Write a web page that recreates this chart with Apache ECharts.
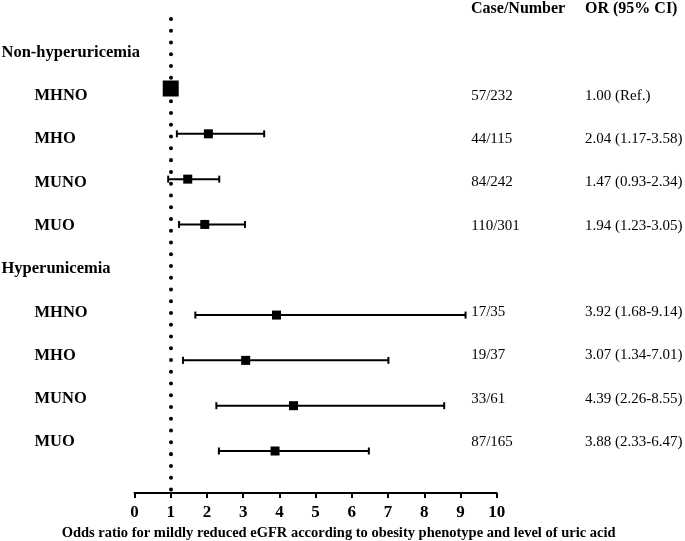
<!DOCTYPE html>
<html>
<head>
<meta charset="utf-8">
<script src="https://cdn.jsdelivr.net/npm/echarts@6/dist/echarts.min.js"></script>
<style>html,body{margin:0;padding:0;background:#fff;}#chart{width:685px;height:541px;}</style>
</head>
<body>
<div id="chart"></div>
<script>
// ---- data ----
const rowLabels = ['Non-hyperuricemia', 'MHNO', 'MHO', 'MUNO', 'MUO', 'Hyperunicemia', 'MHNO', 'MHO', 'MUNO', 'MUO'];
const isGroup = [true, false, false, false, false, true, false, false, false, false];
const caseNumber = ['', '57/232', '44/115', '84/242', '110/301', '', '17/35', '19/37', '33/61', '87/165'];
const orText = ['', '1.00 (Ref.)', '2.04 (1.17-3.58)', '1.47 (0.93-2.34)', '1.94 (1.23-3.05)', '', '3.92 (1.68-9.14)', '3.07 (1.34-7.01)', '4.39 (2.26-8.55)', '3.88 (2.33-6.47)'];
const orValue = [null, 1.00, 2.04, 1.47, 1.94, null, 3.92, 3.07, 4.39, 3.88];
const ciLow = [null, null, 1.17, 0.93, 1.23, null, 1.68, 1.34, 2.26, 2.33];
const ciHigh = [null, null, 3.58, 2.34, 3.05, null, 9.14, 7.01, 8.55, 6.47];
const isRef = [false, true, false, false, false, false, false, false, false, false];
const xTicks = [0, 1, 2, 3, 4, 5, 6, 7, 8, 9, 10];
const refValue = 1;
const headers = ['Case/Number', 'OR (95% CI)'];
const xTitle = 'Odds ratio for mildly reduced eGFR according to obesity phenotype and level of uric acid';

// ---- build ----
const serif = '"Liberation Serif", "Times New Roman", serif';
const squares = [];
const bars = [];
orValue.forEach((v, i) => {
  if (v != null) squares.push({ value: [v, i], symbolSize: isRef[i] ? 16 : 9 });
  if (ciLow[i] != null) bars.push([ciLow[i], ciHigh[i], i]);
});

const chart = echarts.init(document.getElementById('chart'), null, { renderer: 'canvas' });
chart.setOption({
  animation: false,
  backgroundColor: '#fff',
  title: [
    { text: headers[0], left: 471, top: 1, padding: 0, textStyle: { fontFamily: serif, fontWeight: 'bold', fontSize: 16, color: '#000' } },
    { text: headers[1], left: 585, top: 1, padding: 0, textStyle: { fontFamily: serif, fontWeight: 'bold', fontSize: 16, color: '#000' } }
  ],
  grid: [
    { left: 134.5, right: 188.3, top: 19, bottom: 48, containLabel: false, outerBoundsMode: 'none' },
    { left: 134.5, right: 188.3, top: 30.8, bottom: 77.2, containLabel: false, outerBoundsMode: 'none' }
  ],
  xAxis: [
    {
      gridIndex: 0, type: 'value', min: 0, max: 10, interval: 1,
      axisLine: { show: true, onZero: false, lineStyle: { color: '#000', width: 2 } },
      axisTick: { show: true, inside: false, length: 5, lineStyle: { color: '#000', width: 2 } },
      axisLabel: { margin: 11, fontFamily: serif, fontWeight: 'bold', fontSize: 17, color: '#000',
        formatter: v => xTicks.includes(v) ? String(v) : '' },
      splitLine: { show: false },
      name: xTitle, nameLocation: 'middle', nameGap: 31,
      nameTextStyle: { fontFamily: serif, fontWeight: 'bold', fontSize: 14.5, color: '#000', padding: [0, 0, 0, 46] }
    },
    { gridIndex: 1, type: 'value', min: 0, max: 10, show: false }
  ],
  yAxis: [
    { gridIndex: 0, type: 'value', inverse: true, min: -0.534, max: 9.927, show: false },
    {
      gridIndex: 1, type: 'category', inverse: true, data: rowLabels, position: 'left',
      axisLine: { show: false }, axisTick: { show: false }, splitLine: { show: false },
      axisLabel: {
        margin: 133, align: 'left',
        formatter: (v, i) => isGroup[i] ? '{g|' + v + '}' : '{i|' + v + '}',
        rich: {
          g: { fontFamily: serif, fontWeight: 'bold', fontSize: 16.5, color: '#000' },
          i: { fontFamily: serif, fontWeight: 'bold', fontSize: 16.5, color: '#000', padding: [0, 0, 0, 33] }
        }
      }
    },
    {
      gridIndex: 1, type: 'category', inverse: true, data: caseNumber, position: 'right',
      axisLine: { show: false }, axisTick: { show: false }, splitLine: { show: false },
      axisLabel: { margin: -25.5, align: 'left', fontFamily: serif, fontSize: 15, color: '#000' }
    },
    {
      gridIndex: 1, type: 'category', inverse: true, data: orText, position: 'right',
      axisLine: { show: false }, axisTick: { show: false }, splitLine: { show: false },
      axisLabel: { margin: 88.3, align: 'left', fontFamily: serif, fontSize: 15, color: '#000' }
    }
  ],
  series: [
    {
      type: 'custom', xAxisIndex: 0, yAxisIndex: 0, data: bars,
      renderItem: function (params, api) {
        const y = api.coord([0, api.value(2)])[1];
        const x1 = api.coord([api.value(0), 0])[0];
        const x2 = api.coord([api.value(1), 0])[0];
        const h = 3.5;
        const st = { stroke: '#000', lineWidth: 2 };
        return {
          type: 'group', children: [
            { type: 'line', shape: { x1: x1, y1: y, x2: x2, y2: y }, style: st },
            { type: 'line', shape: { x1: x1, y1: y - h, x2: x1, y2: y + h }, style: st },
            { type: 'line', shape: { x1: x2, y1: y - h, x2: x2, y2: y + h }, style: st }
          ]
        };
      },
      z: 3
    },
    {
      type: 'scatter', xAxisIndex: 0, yAxisIndex: 0, symbol: 'rect', data: squares,
      itemStyle: { color: '#000', opacity: 1 }, z: 4,
      markLine: {
        silent: true, symbol: 'none', label: { show: false },
        lineStyle: { color: '#000', width: 4, type: [0.01, 11.75], cap: 'round' },
        data: [{ xAxis: refValue }]
      }
    }
  ]
});
</script>
</body>
</html>
